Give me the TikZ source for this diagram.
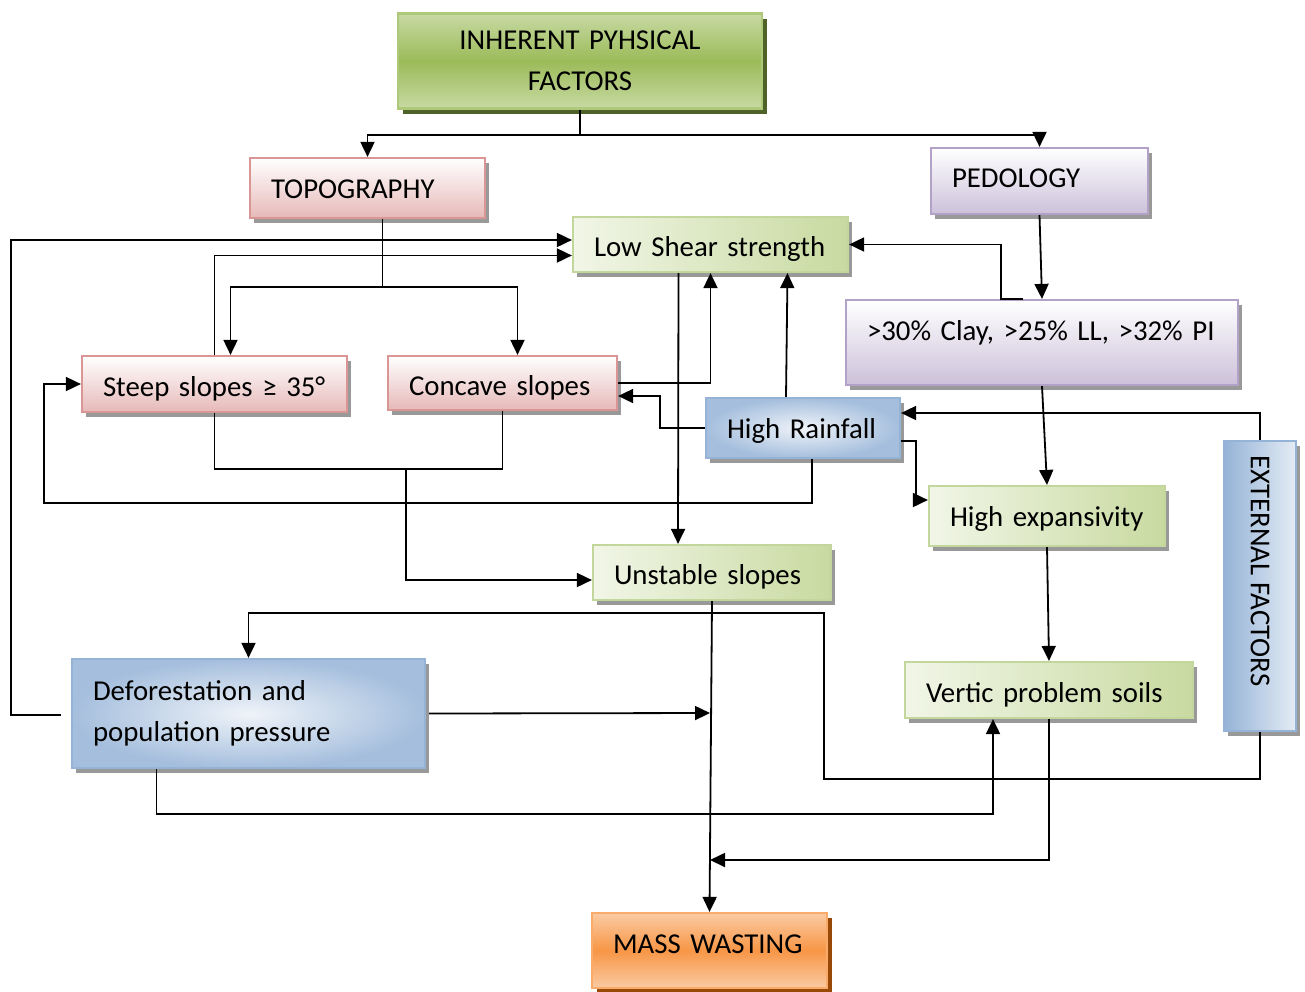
\documentclass[tikz,border=0pt]{standalone}
\usepackage{fontspec}
\setmainfont{Carlito}
\usepackage{tikz}
\usetikzlibrary{positioning,calc,shadows,arrows.meta}
\definecolor{pinkline}{RGB}{217,150,148}
\definecolor{pinkfill}{RGB}{230,185,184}
\definecolor{lilacline}{RGB}{179,162,199}
\definecolor{lilacfill}{RGB}{204,193,218}
\definecolor{leafline}{RGB}{195,214,155}
\definecolor{leaffill}{RGB}{200,218,160}
\definecolor{skyline}{RGB}{149,179,215}
\definecolor{skyfill}{RGB}{149,179,215}
\definecolor{olivefill}{RGB}{155,187,89}
\definecolor{olivedark}{RGB}{79,98,40}
\definecolor{rustfill}{RGB}{247,150,70}
\definecolor{rustdark}{RGB}{152,72,7}

\begin{document}
\begin{tikzpicture}[x=1pt,y=-1pt,>={Triangle[length=15pt,width=14pt]},line width=1.8pt,
    box/.style={rectangle,draw,line width=2.2pt,inner xsep=21pt,inner ysep=0pt,align=left,
      font=\fontsize{28.8}{41}\selectfont,execute at begin node={\hyphenpenalty=10000}},
    one line/.style={text height=24pt,text depth=0pt},
    grey shadow/.style={drop shadow={shadow xshift=4pt,shadow yshift=-5pt,fill=black!40,opacity=1}},
    pink node/.style={box,grey shadow,draw=pinkline,top color=white,bottom color=pinkfill},
    lilac node/.style={box,grey shadow,draw=lilacline,top color=white,bottom color=lilacfill},
    leaf node/.style={box,grey shadow,draw=leafline,left color=leaffill!25,right color=leaffill},
    sky node/.style={box,grey shadow,draw=skyline,inner color=skyfill!15,outer color=skyfill!85},
    head node/.style={box,drop shadow={shadow xshift=5pt,shadow yshift=-5pt,fill=olivedark,opacity=1},
      draw=olivefill!80,top color=olivefill!55,bottom color=olivefill!55,middle color=olivefill},
    end node/.style={box,drop shadow={shadow xshift=5pt,shadow yshift=-5pt,fill=rustdark,opacity=1},
      draw=rustfill!80,top color=rustfill!50,bottom color=rustfill!50,middle color=rustfill}]

  \useasboundingbox (0,0) rectangle (1305,991);

  \node[head node,align=center,text width=322pt,minimum height=95pt] (inh) at (580,61) {INHERENT PYHSICAL\\FACTORS};
  \node[pink node,text height=21pt,text depth=0pt,text width=193pt,minimum height=60pt] (topo) at (367.5,188) {TOPOGRAPHY};
  \node[lilac node,text height=20pt,text depth=7pt,text width=175pt,minimum height=66pt] (pedo) at (1039.5,181) {PEDOLOGY};
  \node[leaf node,one line,text width=233pt,minimum height=55pt] (shear) at (710.5,244.5) {Low~Shear~strength};
  \node[lilac node,text width=350pt,minimum height=85pt,text depth=24pt] (clay) at (1042,342.5) {>30\%~Clay, >25\%~LL, >32\%~PI};
  \node[pink node,one line,text width=223pt,minimum height=56pt] (steep) at (214.5,384) {Steep~slopes~≥~35°};
  \node[pink node,one line,text width=187pt,minimum height=54pt] (conc) at (502.5,383) {Concave~slopes};
  \node[sky node,text height=20pt,text depth=0pt,text width=152pt,minimum height=60pt] (rain) at (803,428) {High~Rainfall};
  \node[leaf node,text height=20pt,text depth=0pt,text width=194pt,minimum height=60pt] (expa) at (1047,516) {High~expansivity};
  \node[sky node,left color=skyfill,right color=skyfill!25,inner xsep=0pt,minimum width=72pt,minimum height=290pt] (ext) at (1260,586) {\rotatebox{-90}{EXTERNAL FACTORS\hspace{30pt}}};
  \node[leaf node,one line,text width=196pt,minimum height=55pt] (unst) at (712,572.5) {Unstable~slopes};
  \node[sky node,text width=311pt,minimum height=109pt] (defo) at (248.5,713.5) {Deforestation~and\\population~pressure};
  \node[leaf node,one line,text width=246pt,minimum height=56pt] (vert) at (1049,690) {Vertic~problem~soils};
  \node[end node,text height=20pt,text depth=14pt,text width=193pt,minimum height=75pt] (mass) at (709.5,950.5) {MASS~WASTING};

  \coordinate (j1) at (710,713);
  \coordinate (j2) at (710,860);
  \coordinate (j3) at (406,468);

  \draw[->] (inh.south) -- ++(0,25) -| (topo.north);
  \draw[->] (inh.south) -- ++(0,25) -| (pedo.north);
  \draw[->] ($(topo.south)+(15,0)$) -- ++(0,68) -| ($(steep.north)+(16,0)$);
  \draw[->] ($(topo.south)+(15,68)$) -| ($(conc.north)+(15,0)$);
  \draw[->] (pedo.south) -- (clay.north);
  \draw[->] ($(clay.north)+(-19,0)$) -- ++(-22,0) |- (shear.east);
  \draw[->] (clay.south) -- (expa.north);
  \draw[->] (expa.south) -- (vert.north);
  \draw[->] (vert.south) |- (j2);
  \draw[->] (unst.south) -- (mass.north);
  \draw[->] ($(shear.south)+(-32,0)$) -- ($(unst.north)+(-34,0)$);
  \draw[->] (conc.east) -| (shear.south);
  \draw[->] ($(rain.north)+(-17,0)$) -- ($(shear.south)+(77,0)$);
  \draw[->] (rain.west) -- ++(-45,0) |- ($(conc.east)+(0,13)$);
  \draw[->] ($(rain.south)+(9,0)$) -- ++(0,44) -| ($(steep.west)+(-37,0)$) -- (steep.west);
  \draw[->] ($(rain.east)+(0,13)$) -- ++(15,0) |- ($(expa.west)+(0,-16)$);
  \draw[->] (ext.north) |- ($(rain.east)+(0,-15)$);
  \draw[->] (ext.south) -- ++(0,47) -- ++(-436,0) -- ++(0,-166) -| (defo.north);
  \draw[->] ($(defo.west)+(-10,1.5)$) -- ++(-50,0) |- ($(shear.west)+(0,-4.5)$);
  \draw[->] (steep.north) |- ($(shear.west)+(0,11)$);
  \draw (steep.south) -- ++(0,56) -| (conc.south);
  \draw[->] (j3) |- ($(unst.west)+(0,7.5)$);
  \draw[->] ($(defo.east)+(3,0)$) -- (j1);
  \draw[->] ($(defo.south)+(-92,0)$) -- ++(0,45) -| ($(vert.south)+(-56,0)$);
\end{tikzpicture}
\end{document}
